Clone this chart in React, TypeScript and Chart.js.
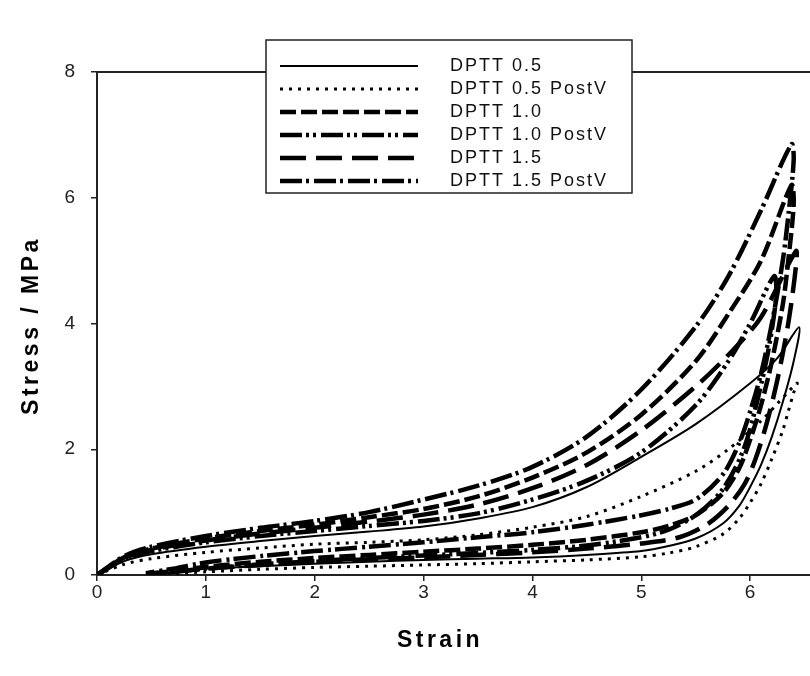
import React, { useEffect, useRef } from "react";
import { Chart, registerables } from "chart.js";

Chart.register(...registerables);

// ---- data (strain, stress) : loading branch followed by unloading branch ----
const seriesLabels = [
  "DPTT 0.5",
  "DPTT 0.5 PostV",
  "DPTT 1.0",
  "DPTT 1.0 PostV",
  "DPTT 1.5",
  "DPTT 1.5 PostV",
];

const strain05 = [0, 0.25, 0.5, 1, 1.5, 2, 2.5, 3, 3.5, 4, 4.5, 5, 5.5, 6, 6.25, 6.45, 6.4, 6.3, 6.2, 6.1, 6.0, 5.9, 5.75, 5.5, 5.25, 5, 4.5, 4, 3.5, 3, 2.5, 2, 1.5, 1, 0.75, 0.6];
const stress05 = [0, 0.22, 0.33, 0.45, 0.54, 0.62, 0.69, 0.77, 0.9, 1.08, 1.4, 1.88, 2.4, 3.05, 3.45, 3.94, 3.4, 2.75, 2.2, 1.75, 1.4, 1.1, 0.82, 0.58, 0.46, 0.38, 0.32, 0.28, 0.26, 0.24, 0.21, 0.18, 0.14, 0.1, 0.06, 0.02];

const strain05P = [0, 0.25, 0.5, 1, 1.5, 2, 2.5, 3, 3.5, 4, 4.5, 5, 5.5, 5.8, 6.1, 6.43, 6.4, 6.35, 6.3, 6.2, 6.1, 6.0, 5.9, 5.75, 5.5, 5.25, 5, 4.5, 4, 3.5, 3, 2.5, 2, 1.5, 1, 0.7, 0.45];
const stress05P = [0, 0.17, 0.26, 0.36, 0.43, 0.49, 0.52, 0.56, 0.64, 0.76, 0.93, 1.25, 1.65, 2.0, 2.45, 3.05, 2.9, 2.6, 2.3, 1.85, 1.45, 1.15, 0.9, 0.65, 0.45, 0.35, 0.29, 0.24, 0.21, 0.18, 0.16, 0.14, 0.12, 0.09, 0.05, 0.02, 0];

const strain10 = [0, 0.25, 0.5, 1, 1.5, 2, 2.5, 3, 3.5, 4, 4.5, 5, 5.5, 5.8, 6.1, 6.38, 6.4, 6.35, 6.3, 6.2, 6.1, 6.0, 5.9, 5.75, 5.5, 5.25, 5, 4.5, 4, 3.5, 3, 2.5, 2, 1.5, 1, 0.7, 0.45];
const stress10 = [0, 0.28, 0.42, 0.58, 0.7, 0.8, 0.92, 1.05, 1.25, 1.55, 1.95, 2.55, 3.4, 4.15, 5.0, 6.2, 5.9, 5.0, 4.3, 3.4, 2.7, 2.15, 1.7, 1.3, 0.95, 0.78, 0.68, 0.56, 0.48, 0.42, 0.37, 0.32, 0.27, 0.21, 0.13, 0.06, 0.02];

const strain10P = [0, 0.25, 0.5, 1, 1.5, 2, 2.5, 3, 3.5, 4, 4.5, 5, 5.5, 5.8, 6.0, 6.22, 6.24, 6.17, 6.07, 5.97, 5.87, 5.72, 5.5, 5.25, 5, 4.5, 4, 3.5, 3, 2.5, 2, 1.5, 1, 0.7, 0.45];
const stress10P = [0, 0.25, 0.38, 0.52, 0.62, 0.7, 0.78, 0.86, 0.98, 1.2, 1.5, 1.95, 2.7, 3.4, 4.0, 4.75, 4.45, 3.6, 2.8, 2.15, 1.72, 1.3, 0.95, 0.72, 0.6, 0.47, 0.4, 0.35, 0.31, 0.27, 0.22, 0.17, 0.1, 0.05, 0.01];

const strain15 = [0, 0.25, 0.5, 1, 1.5, 2, 2.5, 3, 3.5, 4, 4.5, 5, 5.5, 5.8, 6.1, 6.42, 6.42, 6.35, 6.25, 6.15, 6.05, 5.95, 5.8, 5.6, 5.35, 5, 4.5, 4, 3.5, 3, 2.5, 2, 1.5, 1, 0.7, 0.45];
const stress15 = [0, 0.27, 0.4, 0.55, 0.66, 0.75, 0.85, 0.96, 1.12, 1.38, 1.75, 2.3, 3.0, 3.5, 4.1, 5.15, 4.9, 4.0, 3.1, 2.4, 1.85, 1.45, 1.1, 0.8, 0.6, 0.5, 0.42, 0.36, 0.32, 0.28, 0.25, 0.21, 0.16, 0.1, 0.05, 0.01];

const strain15P = [0, 0.25, 0.5, 1, 1.5, 2, 2.5, 3, 3.5, 4, 4.5, 5, 5.5, 5.8, 6.1, 6.38, 6.4, 6.35, 6.3, 6.2, 6.1, 6.0, 5.9, 5.75, 5.5, 5.25, 5, 4.5, 4, 3.5, 3, 2.5, 2, 1.5, 1, 0.7, 0.45];
const stress15P = [0, 0.3, 0.45, 0.62, 0.75, 0.86, 1.0, 1.2, 1.42, 1.72, 2.2, 2.95, 3.95, 4.75, 5.8, 6.85, 6.6, 5.7, 5.0, 4.0, 3.2, 2.6, 2.1, 1.6, 1.2, 1.05, 0.95, 0.8, 0.68, 0.6, 0.52, 0.45, 0.38, 0.3, 0.2, 0.1, 0.03];

const xTicks = [0, 1, 2, 3, 4, 5, 6];
const yTicks = [0, 2, 4, 6, 8];
const xTitle = "Strain";
const yTitle = "Stress / MPa";

const seriesStrains = [strain05, strain05P, strain10, strain10P, strain15, strain15P];
const seriesStresses = [stress05, stress05P, stress10, stress10P, stress15, stress15P];

// ---- styles ----
const lineStyles = [
  { dash: [] as number[], width: 2 },
  { dash: [3, 6], width: 3 },
  { dash: [16, 5], width: 4.5 },
  { dash: [22, 4, 3, 4, 3, 5], width: 4.5 },
  { dash: [26, 10], width: 4.5 },
  { dash: [22, 4, 3, 5], width: 4.5 },
];

const FONT = '"Liberation Sans", Arial, sans-serif';

const decorPlugin = {
  id: "decor",
  afterDraw(chart: any) {
    const ctx = chart.ctx as CanvasRenderingContext2D;
    const ca = chart.chartArea;
    ctx.save();
    // top frame line
    ctx.strokeStyle = "#222";
    ctx.lineWidth = 2;
    ctx.beginPath();
    ctx.moveTo(ca.left, ca.top);
    ctx.lineTo(ca.right, ca.top);
    ctx.stroke();

    // axis titles
    ctx.fillStyle = "#000";
    ctx.font = `bold 23px ${FONT}`;
    (ctx as any).letterSpacing = "3.5px";
    ctx.textAlign = "center";
    ctx.textBaseline = "middle";
    ctx.fillText(xTitle, 440, 641);
    ctx.save();
    ctx.translate(32, (ca.top + ca.bottom) / 2 + 2);
    ctx.rotate(-Math.PI / 2);
    ctx.fillText(yTitle, 0, 0);
    ctx.restore();

    // legend box
    const bx = 266, by = 40, bw = 366, bh = 153;
    ctx.fillStyle = "#fff";
    ctx.fillRect(bx, by, bw, bh);
    ctx.strokeStyle = "#222";
    ctx.lineWidth = 1.5;
    ctx.strokeRect(bx, by, bw, bh);
    chart.data.datasets.forEach((ds: any, i: number) => {
      const y = by + 26 + i * 23;
      ctx.beginPath();
      ctx.setLineDash(ds.borderDash || []);
      ctx.lineWidth = ds.borderWidth;
      ctx.strokeStyle = "#000";
      ctx.moveTo(280, y);
      ctx.lineTo(418, y);
      ctx.stroke();
      ctx.setLineDash([]);
      ctx.font = `18px ${FONT}`;
      (ctx as any).letterSpacing = "2px";
      ctx.fillStyle = "#111";
      ctx.textAlign = "left";
      ctx.textBaseline = "middle";
      ctx.fillText(ds.label, 450, y);
    });
    ctx.restore();
  },
};

export default function App() {
  const ref = useRef<HTMLCanvasElement | null>(null);

  useEffect(() => {
    document.body.style.margin = "0";
    const canvas = ref.current;
    if (!canvas) return;
    const datasets = seriesLabels.map((label, i) => ({
      label,
      data: seriesStrains[i].map((x, j) => ({ x, y: seriesStresses[i][j] })),
      showLine: true,
      borderColor: "#000",
      backgroundColor: "#000",
      borderWidth: lineStyles[i].width,
      borderDash: lineStyles[i].dash,
      pointRadius: 0,
      tension: 0.3,
      fill: false,
    }));
    const chart = new Chart(canvas, {
      type: "scatter",
      data: { datasets },
      options: {
        animation: false,
        responsive: false,
        devicePixelRatio: 1,
        layout: { padding: { top: 72, right: 0, left: 0, bottom: 0 } },
        plugins: { legend: { display: false }, tooltip: { enabled: false } },
        scales: {
          x: {
            type: "linear",
            min: 0,
            max: 6.55,
            afterBuildTicks: (s: any) => {
              s.ticks = xTicks.map((v) => ({ value: v }));
            },
            afterFit: (s: any) => {
              s.height = 101;
            },
            grid: { drawOnChartArea: false, drawTicks: true, tickLength: 6, color: "#222", lineWidth: 1.5 },
            border: { color: "#222", width: 2 },
            ticks: { color: "#222", font: { size: 19, family: FONT }, padding: 0 },
          },
          y: {
            type: "linear",
            min: 0,
            max: 8,
            afterBuildTicks: (s: any) => {
              s.ticks = yTicks.map((v) => ({ value: v }));
            },
            afterFit: (s: any) => {
              s.width = 97;
            },
            grid: { drawOnChartArea: false, drawTicks: true, tickLength: 6, color: "#222", lineWidth: 1.5 },
            border: { color: "#222", width: 2 },
            ticks: { color: "#222", font: { size: 19, family: FONT }, padding: 16 },
          },
        },
      },
      plugins: [decorPlugin],
    } as any);
    return () => chart.destroy();
  }, []);

  return (
    <div style={{ position: "absolute", left: 0, top: 0, width: 810, height: 676, background: "#fff" }}>
      <canvas ref={ref} width={810} height={676} style={{ width: 810, height: 676, display: "block" }} />
    </div>
  );
}
